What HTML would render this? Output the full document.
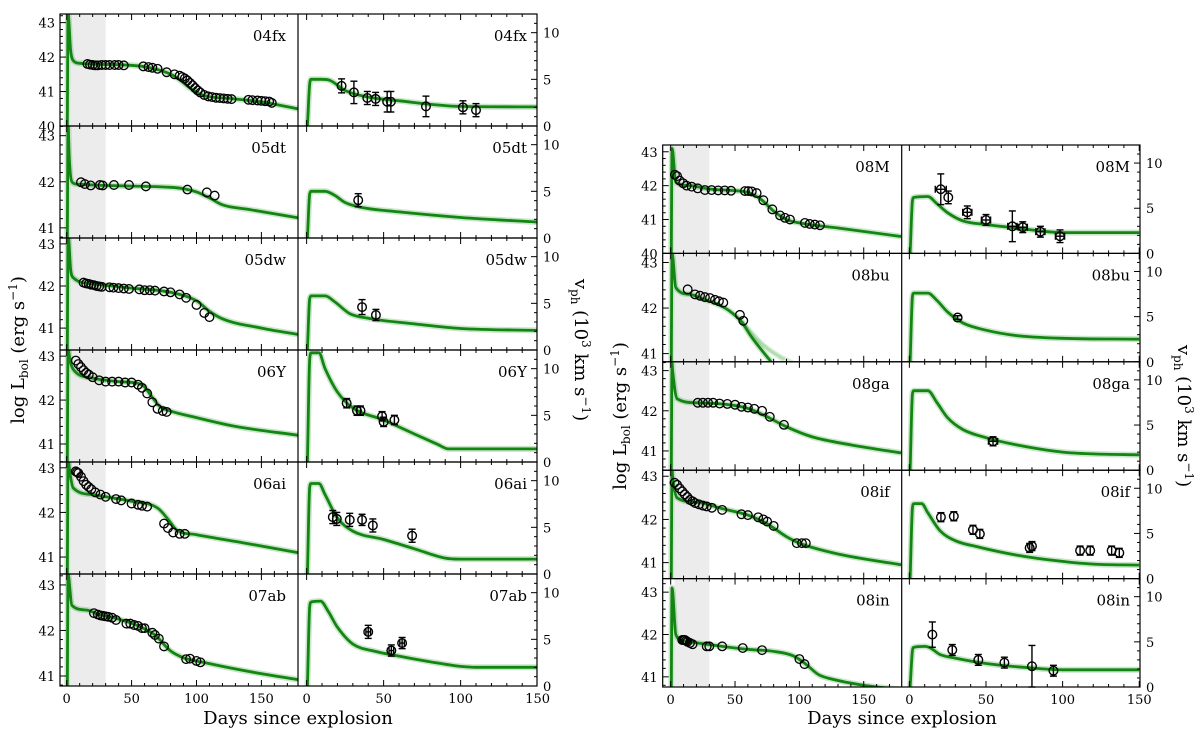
<!DOCTYPE html>
<html><head><meta charset="utf-8"><style>
body{margin:0;background:#fff;}
svg{display:block;font-family:"DejaVu Serif","Liberation Serif",serif;}
</style></head><body>
<svg id="fig" width="1200" height="730" viewBox="0 0 1200 730" xmlns="http://www.w3.org/2000/svg">
<text transform="translate(24,350) rotate(-90)" text-anchor="middle" font-size="18">log L<tspan font-size="12" dy="4">bol</tspan><tspan dy="-4"> (erg s</tspan><tspan font-size="12" dy="-7">−1</tspan><tspan dy="7">)</tspan></text>
<text transform="translate(575,350) rotate(90)" text-anchor="middle" font-size="18">v<tspan font-size="12" dy="4">ph</tspan><tspan dy="-4"> (10</tspan><tspan font-size="12" dy="-7">3</tspan><tspan dy="7"> km s</tspan><tspan font-size="12" dy="-7">−1</tspan><tspan dy="7">)</tspan></text>
<text transform="translate(626,416) rotate(-90)" text-anchor="middle" font-size="18">log L<tspan font-size="12" dy="4">bol</tspan><tspan dy="-4"> (erg s</tspan><tspan font-size="12" dy="-7">−1</tspan><tspan dy="7">)</tspan></text>
<text transform="translate(1178,416) rotate(90)" text-anchor="middle" font-size="18">v<tspan font-size="12" dy="4">ph</tspan><tspan dy="-4"> (10</tspan><tspan font-size="12" dy="-7">3</tspan><tspan dy="7"> km s</tspan><tspan font-size="12" dy="-7">−1</tspan><tspan dy="7">)</tspan></text>
<text x="298" y="724" text-anchor="middle" font-size="18">Days since explosion</text>
<text x="902" y="724" text-anchor="middle" font-size="18">Days since explosion</text>
</svg>
<script>
// ---- data: luminosity model curves [day, logL]
const m04fxL=[[0.5,40],[1,43.3],[3,42.2],[5,41.9],[10,41.82],[40,41.78],[60,41.72],[75,41.58],[85,41.4],[95,41.1],[103,40.92],[110,40.85],[125,40.8],[150,40.7],[178,40.5]];
const m05dtL=[[0.5,40.7],[1,43.3],[2,42.5],[4,42.0],[8,41.95],[30,41.92],[60,41.9],[80,41.88],[90,41.85],[100,41.78],[110,41.65],[120,41.5],[140,41.4],[178,41.22]];
const m05dwL=[[0.5,40.4],[1,43.3],[3,42.4],[5,42.2],[20,42.05],[50,41.95],[80,41.85],[100,41.65],[110,41.4],[120,41.22],[150,41.0],[178,40.85]];
const m06YL=[[0.5,40.5],[1,43.3],[2,43.0],[5,42.7],[20,42.5],[40,42.42],[55,42.38],[60,42.3],[65,42.1],[72,41.85],[80,41.75],[100,41.6],[130,41.4],[178,41.2]];
const m06aiL=[[0.5,40.5],[1,43.3],[2,43.0],[5,42.55],[20,42.4],[30,42.35],[50,42.25],[70,42.1],[78,41.85],[85,41.6],[100,41.5],[140,41.3],[178,41.1]];
const m07abL=[[0.5,40.7],[1,43.3],[1.5,43.2],[4,42.55],[15,42.45],[25,42.35],[40,42.25],[55,42.1],[68,41.9],[80,41.55],[90,41.4],[105,41.3],[140,41.1],[178,40.92]];
const m08ML=[[0.5,40],[1,43.1],[4,42.1],[15,42.0],[30,41.9],[50,41.85],[60,41.8],[70,41.6],[80,41.25],[90,41.0],[100,40.9],[130,40.75],[179,40.5]];
const m08buL=[[0.5,40.8],[1,43.2],[4,42.45],[15,42.3],[25,42.2],[35,42.1],[45,41.95],[55,41.7],[62,41.4],[70,41.1],[78,40.82]];
const m08buL2=[[55,41.7],[62,41.5],[72,41.2],[85,40.95],[95,40.8]];
const m08buL3=[[55,41.7],[62,41.45],[75,41.1],[88,40.85]];
const m08gaL=[[0.5,40.5],[1,43.2],[1.5,43.0],[5,42.3],[20,42.2],[40,42.17],[55,42.1],[65,42.0],[75,41.85],[90,41.6],[110,41.35],[140,41.15],[179,40.95]];
const m08ifL=[[0.5,40.6],[1,43.2],[1.5,43.0],[5,42.5],[20,42.4],[40,42.25],[60,42.1],[75,41.9],[90,41.6],[100,41.45],[130,41.2],[179,40.95]];
const m08inL=[[0.5,40.7],[1,43.1],[4,42.0],[10,41.85],[25,41.78],[40,41.72],[60,41.65],[80,41.6],[95,41.5],[105,41.3],[115,41.05],[125,40.95],[150,40.8],[179,40.7]];
// ---- data: velocity model curves [day, v]
const m04fxV=[[0.5,0],[2,4.5],[3,5],[10,5],[15,4.9],[25,3.8],[40,3.1],[60,2.7],[100,2.1],[150,2.05]];
const m05dtV=[[0.5,0],[2,4.7],[3,5],[12,5],[18,4.6],[25,3.8],[35,3.3],[60,2.8],[100,2.2],[150,1.7]];
const m05dwV=[[0.5,0],[2,5.5],[3,5.8],[12,5.8],[18,5.2],[28,3.9],[40,3.4],[70,2.8],[100,2.3],[150,2.1]];
const m06YV=[[0.5,0],[2,11],[3,11.7],[8,11.7],[12,10],[20,7.5],[30,5.8],[50,4.5],[70,3],[85,1.9],[92,1.4],[110,1.4],[150,1.4]];
const m06aiV=[[0.5,0],[2,9.3],[3,9.7],[8,9.7],[12,8.5],[20,6],[30,4.6],[50,3.7],[70,2.7],[90,1.7],[100,1.6],[150,1.6]];
const m07abV=[[0.5,0],[2,8.5],[3,9],[9,9.1],[14,8],[20,6.3],[30,4.5],[45,3.7],[60,3.2],[80,2.6],[100,2.1],[110,2],[150,2]];
const m08MV=[[0.5,0],[2,5.8],[3,6.2],[12,6.3],[18,5.5],[25,4.5],[35,3.6],[50,3.2],[70,2.8],[90,2.4],[100,2.3],[150,2.3]];
const m08buV=[[0.5,0],[2,7.2],[3,7.6],[12,7.6],[18,6.8],[25,5.5],[35,4.3],[50,3.5],[70,2.9],[100,2.6],[150,2.5]];
const m08gaV=[[0.5,0],[2,8.4],[3,8.8],[12,8.8],[18,7.5],[25,5.8],[35,4.5],[50,3.6],[70,2.8],[100,2.0],[120,1.8],[150,1.7]];
const m08ifV=[[0.5,0],[2,7.8],[3,8.3],[8,8.3],[12,7.3],[20,5.3],[30,4.2],[45,3.5],[70,2.6],[100,1.9],[120,1.6],[150,1.5]];
const m08inV=[[0.5,0],[2,4],[3,4.4],[10,4.5],[14,4.3],[20,3.6],[30,3.2],[50,2.6],[80,2.1],[100,1.9],[150,1.9]];
// ---- data: observed luminosities [day, logL]
const o04fxL=[[16,41.8],[18,41.78],[20,41.77],[22,41.76],[24,41.76],[27,41.77],[30,41.77],[33,41.77],[37,41.77],[40,41.77],[44,41.76],[59,41.73],[63,41.71],[66,41.69],[70,41.66],[77,41.56],[83,41.5],[87,41.46],[89,41.42],[91,41.38],[93,41.32],[95,41.25],[97,41.18],[99,41.1],[101,41.03],[103,40.97],[106,40.9],[109,40.86],[112,40.84],[115,40.82],[118,40.81],[121,40.8],[124,40.79],[127,40.78],[140,40.76],[143,40.75],[147,40.74],[150,40.73],[153,40.72],[156,40.71],[158,40.67]];
const o05dtL=[[11,41.99],[14,41.95],[18.5,41.92],[25.6,41.93],[27.7,41.92],[36.4,41.93],[48,41.93],[61,41.9],[93,41.83],[108,41.77],[114,41.7]];
const o05dwL=[[13,42.08],[15,42.06],[17,42.05],[19,42.03],[21,42.02],[23,42.0],[25,41.99],[27,41.98],[33,41.97],[36,41.96],[40,41.95],[44,41.94],[48,41.93],[56,41.92],[60,41.9],[64,41.9],[68,41.89],[75,41.87],[80,41.85],[87,41.8],[92,41.72],[100,41.55],[106,41.36],[110,41.26]];
const o06YL=[[7,42.9],[9,42.82],[11,42.75],[13,42.68],[15,42.62],[17,42.58],[20,42.52],[25,42.45],[30,42.42],[35,42.42],[40,42.42],[45,42.4],[50,42.4],[55,42.35],[58,42.28],[62,42.15],[66,41.95],[70,41.8],[74,41.75],[77,41.73]];
const o06aiL=[[7,42.92],[8,42.9],[9,42.88],[11,42.8],[13,42.7],[15,42.62],[17,42.57],[19,42.52],[22,42.45],[26,42.4],[30,42.35],[38,42.3],[42,42.27],[50,42.2],[55,42.17],[58,42.15],[62,42.13],[75,41.75],[78,41.65],[82,41.55],[87,41.52],[91,41.52]];
const o07abL=[[21,42.38],[24,42.35],[26,42.33],[28,42.32],[30,42.31],[32,42.3],[35,42.28],[38,42.23],[46,42.15],[49,42.15],[52,42.12],[55,42.1],[58,42.05],[60,42.05],[66,41.95],[68,41.9],[71,41.82],[75,41.65],[92,41.37],[95,41.38],[100,41.33],[103,41.3]];
const o08ML=[[3.3,42.32],[5,42.28],[7,42.15],[9.7,42.07],[12.4,42.0],[16.3,41.97],[21,41.92],[26.6,41.87],[31.8,41.87],[36.9,41.86],[42,41.86],[46.9,41.85],[57.7,41.84],[60.3,41.84],[63,41.83],[66.8,41.78],[72,41.57],[79,41.3],[85,41.12],[88.8,41.05],[92.7,41.0],[104.3,40.9],[108,40.87],[112,40.85],[116,40.83]];
const o08buL=[[13.2,42.41],[18.9,42.3],[22.8,42.27],[26.6,42.24],[30.5,42.22],[34.4,42.18],[37.5,42.15],[40.9,42.12],[53.8,41.85],[56.4,41.72]];
const o08gaL=[[21,42.2],[25,42.2],[29,42.2],[33,42.2],[38,42.18],[44,42.17],[50,42.15],[55,42.1],[60,42.08],[65,42.05],[71,42.0],[77,41.85],[88,41.65]];
const o08ifL=[[3,42.85],[5,42.8],[7,42.72],[9,42.65],[11,42.58],[13,42.52],[15,42.45],[17,42.42],[19,42.38],[22,42.35],[25,42.32],[28,42.3],[32,42.27],[40,42.22],[55,42.12],[60,42.1],[68,42.05],[72,42.0],[75,41.95],[80,41.85],[98,41.45],[102,41.45],[105,41.45]];
const o08inL=[[9,41.87],[10,41.87],[11,41.87],[12,41.85],[13,41.83],[15,41.8],[17,41.77],[28,41.72],[30,41.72],[40,41.72],[56,41.68],[71,41.63],[100,41.42],[104,41.3]];
// ---- data: observed velocities [day, v, verr, dayerr]
const o04fxV=[[22.7,4.3,0.75,0],[30.7,3.6,1.2,0],[39.4,3.0,0.7,0],[44.8,2.9,0.7,0],[52.3,2.6,1.1,0],[54.7,2.6,1.1,0],[77.5,2.1,1.1,0],[101.5,2.0,0.7,0],[110,1.7,0.7,0]];
const o05dtV=[[33.5,4.05,0.7,0]];
const o05dwV=[[36,4.6,0.8,0],[45,3.75,0.6,0]];
const o06YV=[[26,6.3,0.5,0],[32.7,5.5,0.5,0],[35,5.5,0.5,0],[49,4.9,0.5,0],[50,4.3,0.5,0],[57,4.5,0.5,0]];
const o06aiV=[[17,6.1,0.7,0],[19.6,5.9,0.7,0],[28,5.8,0.7,0],[36,5.8,0.6,0],[43,5.2,0.7,0],[68.5,4.1,0.7,0]];
const o07abV=[[40,5.8,0.7,1.5],[55,3.8,0.6,1.5],[62,4.6,0.6,1.5]];
const o08MV=[[20.5,7.1,1.7,3.6],[25.4,6.2,0.7,0],[37.8,4.55,0.7,3],[50,3.7,0.6,3],[67.2,3.0,1.7,3],[74,2.9,0.6,3],[85.5,2.4,0.6,3],[98.3,1.9,0.7,3]];
const o08buV=[[31.5,4.9,0.2,0]];
const o08gaV=[[54.6,3.2,0.5,3]];
const o08ifV=[[20.6,6.8,0.5,0],[29,6.9,0.5,0],[41.5,5.4,0.5,0],[46,4.95,0.5,0],[78.5,3.4,0.5,0],[80,3.6,0.5,0],[111.4,3.1,0.5,0],[118,3.1,0.5,0],[132,3.1,0.5,0],[137,2.85,0.5,0]];
const o08inV=[[15,5.8,1.4,0],[28,4.1,0.6,0],[45,3.0,0.6,0],[62,2.7,0.6,0],[80,2.3,2.3,0],[94,1.8,0.6,0]];
// ---- panel names and y-limits
const names1=['04fx','05dt','05dw','06Y','06ai','07ab'];
const names2=['08M','08bu','08ga','08if','08in'];
const ylim1=[[40,43.25],[40.78,43.21],[40.48,43.14],[40.59,43.14],[40.62,43.13],[40.78,43.24]];
const ylim2=[[40,43.2],[40.82,43.2],[40.52,43.22],[40.63,43.14],[40.76,43.32]];
const vlim=[0,12];
const xTicks=[0,50,100,150];
const vTicks=[0,5,10];
const shadeDays=[3,30];

const NS='http://www.w3.org/2000/svg';
const svg=document.getElementById('fig');
function mk(tag,attrs,parent){const e=document.createElementNS(NS,tag);for(const k in attrs)e.setAttribute(k,attrs[k]);(parent||svg).appendChild(e);return e;}
function lin(d0,d1,r0,r1){return v=>r0+(v-d0)*(r1-r0)/(d1-d0);}

const blocks=[
 {Lx0:60,div:298,vx1:537,top:14,rowH:112,Ldom:[-5.15,178.2],vdom:[-5.6,149.6],names:names1,ylims:ylim1,
  L:[m04fxL,m05dtL,m05dwL,m06YL,m06aiL,m07abL],V:[m04fxV,m05dtV,m05dwV,m06YV,m06aiV,m07abV],
  oL:[o04fxL,o05dtL,o05dwL,o06YL,o06aiL,o07abL],oV:[o04fxV,o05dtV,o05dwV,o06YV,o06aiV,o07abV],extra:{}},
 {Lx0:662.7,div:901.7,vx1:1140,top:145,rowH:108.4,Ldom:[-6.2,179.5],vdom:[-5,150.5],names:names2,ylims:ylim2,
  L:[m08ML,m08buL,m08gaL,m08ifL,m08inL],V:[m08MV,m08buV,m08gaV,m08ifV,m08inV],
  oL:[o08ML,o08buL,o08gaL,o08ifL,o08inL],oV:[o08MV,o08buV,o08gaV,o08ifV,o08inV],extra:{1:[m08buL2,m08buL3]}}
];
const defs=mk('defs',{});
let clipId=0;
// monotone cubic (Fritsch-Carlson) smooth path through pixel points
function path(pts,x,y){
  const P=pts.map(p=>[x(p[0]),y(p[1])]);const n=P.length;
  if(n<3)return P.map((p,i)=>(i?'L':'M')+p[0].toFixed(1)+','+p[1].toFixed(1)).join('');
  const d=[],m=[];
  for(let i=0;i<n-1;i++)d.push((P[i+1][1]-P[i][1])/(P[i+1][0]-P[i][0]));
  m[0]=d[0];m[n-1]=d[n-2];
  for(let i=1;i<n-1;i++)m[i]=(d[i-1]*d[i]<=0)?0:(d[i-1]+d[i])/2;
  for(let i=0;i<n-1;i++){if(d[i]===0){m[i]=0;m[i+1]=0;continue;}
    const a=m[i]/d[i],b=m[i+1]/d[i],s=a*a+b*b;if(s>9){const t=3/Math.sqrt(s);m[i]=t*a*d[i];m[i+1]=t*b*d[i];}}
  let s='M'+P[0][0].toFixed(1)+','+P[0][1].toFixed(1);
  for(let i=0;i<n-1;i++){const h=(P[i+1][0]-P[i][0])/3;
    s+='C'+(P[i][0]+h).toFixed(1)+','+(P[i][1]+m[i]*h).toFixed(1)+' '+(P[i+1][0]-h).toFixed(1)+','+(P[i+1][1]-m[i+1]*h).toFixed(1)+' '+P[i+1][0].toFixed(1)+','+P[i+1][1].toFixed(1);}
  return s;
}
function curve(g,pts,x,y,cp,main){
  const w=mk('path',{d:path(pts,x,y),fill:'none',stroke:'#2a9a2a','stroke-width':main?6:4,'stroke-opacity':main?0.25:0.2,'clip-path':cp,'stroke-linejoin':'round'},g);
  
  
  if(main){const e=mk('path',{d:path(pts,x,y),fill:'none',stroke:'#128512','stroke-width':2.8,'clip-path':cp,'stroke-linejoin':'round'},g);
  
  }
}
blocks.forEach((b,bi)=>{
  const n=b.names.length;
  const bottom=b.top+n*b.rowH;
  const xL=lin(b.Ldom[0],b.Ldom[1],b.Lx0,b.div);
  const xV=lin(b.vdom[0],b.vdom[1],b.div,b.vx1);
  const sh=mk('rect',{x:xL(shadeDays[0]),y:b.top,width:xL(shadeDays[1])-xL(shadeDays[0]),height:n*b.rowH,fill:'#ececec'});
  
  
  b.names.forEach((nm,i)=>{
    const t=b.top+i*b.rowH, bt=t+b.rowH;
    const yl=b.ylims[i];
    const yL=lin(yl[0],yl[1],bt,t);
    const yV=lin(vlim[0],vlim[1],bt,t);
    const g=mk('g',{});
    
    
    const c1=mk('clipPath',{id:'c'+(++clipId)},defs);mk('rect',{x:b.Lx0,y:t,width:b.div-b.Lx0,height:b.rowH},c1);
    const cp1='url(#c'+clipId+')';
    const c2=mk('clipPath',{id:'c'+(++clipId)},defs);mk('rect',{x:b.div,y:t,width:b.vx1-b.div,height:b.rowH},c2);
    const cp2='url(#c'+clipId+')';
    (b.extra[i]||[]).forEach(ex=>curve(g,ex,xL,yL,cp1,false));
    curve(g,b.L[i],xL,yL,cp1,true);
    curve(g,b.V[i],xV,yV,cp2,true);
    b.oL[i].forEach(p=>{
      const c=mk('circle',{cx:xL(p[0]),cy:yL(p[1]),r:4.3,fill:'none',stroke:'#000','stroke-width':1.3,'clip-path':cp1},g);
      
      
    });
    b.oV[i].forEach(p=>{
      const cx=xV(p[0]),cy=yV(p[1]),y1=yV(p[1]+p[2]),y2=yV(p[1]-p[2]);
      const eg=mk('g',{stroke:'#000','stroke-width':1.4,fill:'none'},g);
      
      
      mk('line',{x1:cx,y1:y1,x2:cx,y2:y2},eg);
      mk('line',{x1:cx-3.5,y1:y1,x2:cx+3.5,y2:y1},eg);
      mk('line',{x1:cx-3.5,y1:y2,x2:cx+3.5,y2:y2},eg);
      if(p[3]>0){const xa=xV(p[0]-p[3]),xb=xV(p[0]+p[3]);
        mk('line',{x1:xa,y1:cy,x2:xb,y2:cy},eg);
        mk('line',{x1:xa,y1:cy-3.5,x2:xa,y2:cy+3.5},eg);
        mk('line',{x1:xb,y1:cy-3.5,x2:xb,y2:cy+3.5},eg);}
      mk('circle',{cx:cx,cy:cy,r:4.3},eg);
    });
    for(let v=Math.ceil(yl[0]*5)/5;v<=yl[1]+1e-9;v=Math.round((v+0.2)*10)/10){
      const maj=Math.abs(v-Math.round(v))<1e-6;
      mk('line',{x1:b.Lx0,x2:b.Lx0+(maj?6:3),y1:yL(v),y2:yL(v),stroke:'#000','stroke-width':1},g);
      if(maj){const tx=mk('text',{x:b.Lx0-5,y:yL(v)+5,'text-anchor':'end','font-size':13},g);tx.textContent=Math.round(v);
        
        }
    }
    for(let v=0;v<=12;v++){
      const maj=v%5===0;
      mk('line',{x1:b.vx1,x2:b.vx1-(maj?6:3),y1:yV(v),y2:yV(v),stroke:'#000','stroke-width':1},g);
    }
    vTicks.forEach(v=>{const tx=mk('text',{x:b.vx1+6,y:yV(v)+5,'font-size':13},g);tx.textContent=v;
      
      });
    [[xL,b.Ldom],[xV,b.vdom]].forEach(([xs,dom])=>{
      for(let d=0;d<=dom[1];d+=10){
        const maj=d%50===0,len=maj?6:3;
        mk('line',{x1:xs(d),x2:xs(d),y1:t,y2:t+len,stroke:'#000','stroke-width':1},g);
        mk('line',{x1:xs(d),x2:xs(d),y1:bt,y2:bt-len,stroke:'#000','stroke-width':1},g);
      }
    });
    const l1=mk('text',{x:b.div-12,y:t+27,'text-anchor':'end','font-size':15},g);l1.textContent=nm;
    
    
    const l2=mk('text',{x:b.vx1-10,y:t+27,'text-anchor':'end','font-size':15},g);l2.textContent=nm;
    
    
    mk('rect',{x:b.Lx0,y:t,width:b.vx1-b.Lx0,height:b.rowH,fill:'none',stroke:'#000','stroke-width':1.2},g);
    mk('line',{x1:b.div,x2:b.div,y1:t,y2:bt,stroke:'#000','stroke-width':1.2},g);
  });
  xTicks.forEach(d=>{
    const a=mk('text',{x:xL(d),y:bottom+17,'text-anchor':'middle','font-size':13});a.textContent=d;
    
    
    const c=mk('text',{x:xV(d),y:bottom+17,'text-anchor':'middle','font-size':13});c.textContent=d;
    
    
  });
});
</script>
</body></html>
